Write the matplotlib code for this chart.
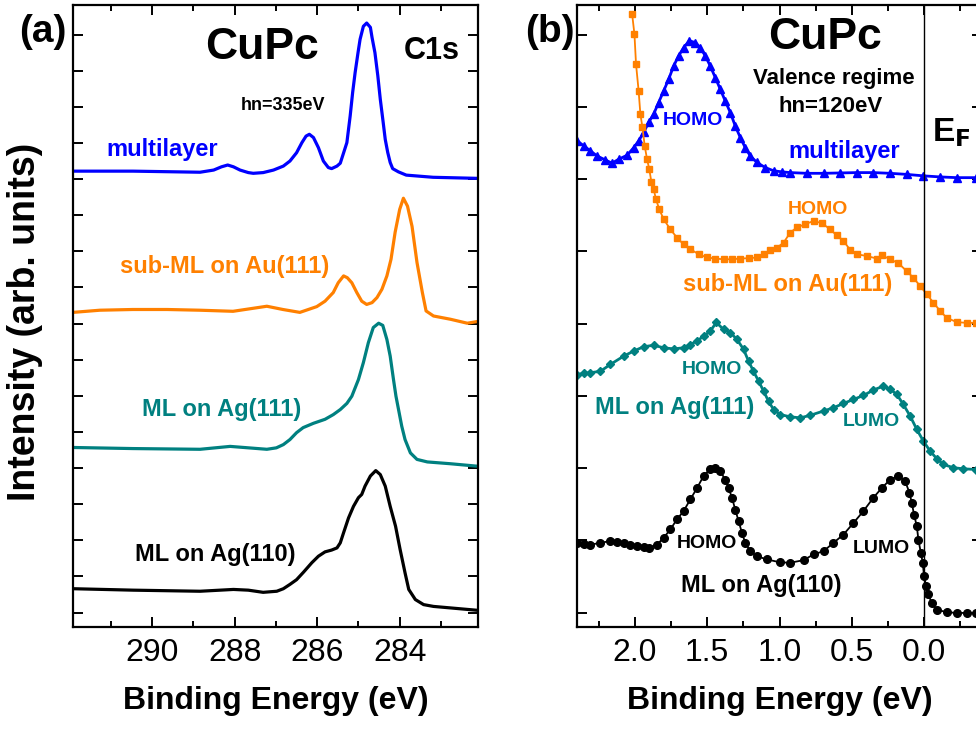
import numpy as np
import matplotlib
matplotlib.use('Agg')
import matplotlib.pyplot as plt
from matplotlib.ticker import MultipleLocator, FormatStrFormatter

plt.rcParams['font.family'] = ['Liberation Sans', 'DejaVu Sans']

# ---------------- panel (a): C1s core level ----------------
c1s_multi_E = [291.92, 290.47, 288.84, 288.51, 288.32, 288.17, 288.03, 287.87, 287.67, 287.55,
               287.31, 287.06, 286.82, 286.66, 286.50, 286.37, 286.27, 286.19, 286.09, 285.97,
               285.85, 285.73, 285.65, 285.52, 285.44, 285.28, 285.20, 285.14, 285.08, 285.01,
               284.96, 284.88, 284.80, 284.71, 284.67, 284.60, 284.53, 284.47, 284.40, 284.35,
               284.29, 284.23, 284.17, 284.03, 283.84, 283.19, 282.10]
c1s_multi_I = [12.22, 12.22, 12.19, 12.25, 12.34, 12.39, 12.34, 12.25, 12.18, 12.16,
               12.18, 12.25, 12.36, 12.50, 12.73, 13.01, 13.19, 13.24, 13.15, 12.87,
               12.50, 12.32, 12.29, 12.36, 12.44, 13.01, 13.75, 14.40, 14.95, 15.50,
               15.87, 16.23, 16.32, 16.20, 15.92, 15.50, 14.86, 14.21, 13.57, 13.10,
               12.74, 12.46, 12.29, 12.20, 12.11, 12.05, 12.02]

c1s_au_E = [291.92, 291.27, 290.47, 289.64, 288.84, 288.04, 287.22, 286.83, 286.42,
            286.01, 285.81, 285.61, 285.49, 285.36, 285.27, 285.16, 285.04, 284.92, 284.80,
            284.67, 284.55, 284.43, 284.31, 284.21, 284.11, 284.00, 283.91, 283.81, 283.70,
            283.58, 283.45, 283.36, 283.18, 282.77, 282.36, 282.10]
c1s_au_I = [8.31, 8.37, 8.39, 8.39, 8.37, 8.34, 8.48, 8.39, 8.31,
            8.47, 8.62, 8.86, 9.13, 9.32, 9.27, 9.13, 8.86, 8.62, 8.53,
            8.58, 8.72, 8.95, 9.32, 9.78, 10.53, 11.16, 11.47, 11.25, 10.69,
            9.69, 8.86, 8.35, 8.21, 8.12, 8.01, 8.06]

c1s_ag111_E = [291.92, 290.47, 288.84, 288.11, 287.22, 286.99, 286.82, 286.66, 286.50, 286.34,
               286.09, 285.81, 285.61, 285.44, 285.28, 285.16, 285.08, 285.00, 284.88, 284.76,
               284.64, 284.51, 284.41, 284.31, 284.23, 284.15, 284.09, 283.95, 283.87, 283.74,
               283.58, 283.33, 282.77, 282.10]
c1s_ag111_I = [4.57, 4.54, 4.52, 4.60, 4.52, 4.56, 4.65, 4.79, 4.98, 5.12,
               5.24, 5.35, 5.48, 5.62, 5.79, 5.99, 6.22, 6.45, 6.92, 7.47,
               7.89, 8.01, 7.95, 7.56, 7.10, 6.45, 5.99, 5.16, 4.79, 4.42,
               4.24, 4.17, 4.12, 4.05]

c1s_ag110_E = [291.91, 290.46, 288.84, 288.03, 287.67, 287.31, 286.98, 286.82, 286.66, 286.50,
               286.33, 286.13, 285.97, 285.81, 285.65, 285.52, 285.44, 285.36, 285.24, 285.12,
               285.00, 284.92, 284.84, 284.71, 284.58, 284.47, 284.35, 284.23, 284.10, 283.99,
               283.87, 283.78, 283.62, 283.42, 283.18, 282.09]
c1s_ag110_I = [0.66, 0.62, 0.59, 0.64, 0.62, 0.56, 0.59, 0.66, 0.78, 0.91,
               1.12, 1.38, 1.56, 1.68, 1.73, 1.79, 1.93, 2.21, 2.62, 2.94,
               3.18, 3.27, 3.50, 3.78, 3.93, 3.82, 3.50, 2.94, 2.39, 1.75,
               1.10, 0.64, 0.36, 0.22, 0.17, 0.06]

# ---------------- panel (b): valence regime ----------------
val_multi_E = [2.399, 2.353, 2.307, 2.261, 2.204, 2.158, 2.112, 2.054, 2.008, 1.974, 1.939,
               1.905, 1.870, 1.836, 1.801, 1.767, 1.732, 1.698, 1.663, 1.624, 1.582, 1.548,
               1.513, 1.479, 1.444, 1.410, 1.375, 1.340, 1.306, 1.271, 1.237, 1.202, 1.156,
               1.099, 1.041, 0.983, 0.926, 0.811, 0.696, 0.581, 0.465, 0.351, 0.235, 0.120,
               0.006, -0.110, -0.225, -0.358]
val_multi_I = [13.06, 12.92, 12.78, 12.64, 12.53, 12.44, 12.55, 12.66, 12.87, 13.06, 13.29,
               13.57, 13.80, 14.12, 14.44, 14.76, 15.13, 15.41, 15.64, 15.83, 15.78, 15.64,
               15.41, 15.13, 14.81, 14.49, 14.16, 13.84, 13.47, 13.15, 12.87, 12.64, 12.46,
               12.32, 12.23, 12.20, 12.18, 12.16, 12.16, 12.17, 12.18, 12.18, 12.16, 12.13,
               12.09, 12.06, 12.04, 12.04]

val_au_E = [2.019, 2.003, 1.992, 1.974, 1.962, 1.948, 1.932, 1.916, 1.900, 1.886, 1.870,
            1.854, 1.831, 1.801, 1.755, 1.709, 1.663, 1.617, 1.559, 1.501, 1.444, 1.387,
            1.329, 1.271, 1.214, 1.156, 1.110, 1.064, 1.018, 0.972, 0.926, 0.880, 0.823,
            0.765, 0.707, 0.650, 0.604, 0.558, 0.512, 0.465, 0.396, 0.327, 0.293, 0.235,
            0.178, 0.120, 0.075, 0.028, -0.018, -0.064, -0.110, -0.156, -0.225, -0.294, -0.358]
val_au_I = [16.57, 16.01, 15.18, 14.44, 13.80, 13.44, 12.92, 12.55, 12.27, 11.92, 11.72,
            11.44, 11.16, 10.89, 10.61, 10.38, 10.19, 10.06, 9.92, 9.83, 9.80, 9.78,
            9.78, 9.80, 9.81, 9.83, 9.92, 10.04, 10.10, 10.24, 10.52, 10.66, 10.75,
            10.84, 10.78, 10.61, 10.44, 10.29, 10.04, 9.92, 9.87, 9.80, 9.89, 9.78,
            9.67, 9.45, 9.27, 9.04, 8.81, 8.58, 8.35, 8.16, 8.04, 8.02, 8.02]

val_ag111_E = [2.399, 2.353, 2.307, 2.238, 2.169, 2.077, 2.008, 1.939, 1.870, 1.801, 1.732,
               1.663, 1.617, 1.570, 1.525, 1.479, 1.437, 1.387, 1.340, 1.294, 1.249, 1.214,
               1.180, 1.145, 1.110, 1.076, 1.041, 0.995, 0.926, 0.857, 0.788, 0.696, 0.627,
               0.558, 0.489, 0.420, 0.351, 0.282, 0.235, 0.189, 0.144, 0.097, 0.051, 0.006,
               -0.041, -0.087, -0.133, -0.202, -0.271, -0.358]
val_ag111_I = [6.59, 6.62, 6.64, 6.68, 6.87, 7.10, 7.24, 7.36, 7.40, 7.33, 7.30,
               7.33, 7.42, 7.52, 7.65, 7.79, 8.03, 7.84, 7.75, 7.56, 7.29, 6.96,
               6.68, 6.41, 6.13, 5.85, 5.62, 5.48, 5.42, 5.39, 5.46, 5.58, 5.67,
               5.79, 5.90, 6.01, 6.16, 6.27, 6.18, 6.04, 5.76, 5.44, 5.07, 4.75,
               4.47, 4.26, 4.10, 4.01, 3.98, 3.96]

val_ag110_E = [2.399, 2.353, 2.307, 2.238, 2.169, 2.123, 2.077, 2.031, 1.985, 1.939, 1.905,
               1.847, 1.801, 1.755, 1.709, 1.663, 1.617, 1.570, 1.525, 1.479, 1.444, 1.410,
               1.375, 1.352, 1.329, 1.306, 1.283, 1.260, 1.237, 1.202, 1.156, 1.087, 0.995,
               0.926, 0.834, 0.765, 0.696, 0.627, 0.558, 0.489, 0.420, 0.351, 0.293, 0.235,
               0.178, 0.132, 0.102, 0.086, 0.070, 0.051, 0.040, 0.023, 0.010, 0.001, -0.013,
               -0.029, -0.052, -0.087, -0.156, -0.225, -0.294, -0.358]
val_ag110_I = [1.93, 1.91, 1.88, 1.93, 1.98, 1.96, 1.93, 1.88, 1.84, 1.82, 1.79,
               1.88, 2.07, 2.30, 2.58, 2.81, 3.13, 3.45, 3.78, 3.98, 4.01, 3.91,
               3.68, 3.45, 3.18, 2.85, 2.53, 2.21, 1.93, 1.70, 1.56, 1.47, 1.39,
               1.38, 1.45, 1.61, 1.70, 1.93, 2.16, 2.48, 2.81, 3.18, 3.45, 3.68,
               3.78, 3.64, 3.32, 3.04, 2.71, 2.39, 2.02, 1.65, 1.38, 1.01, 0.73,
               0.50, 0.27, 0.08, 0.01, -0.01, -0.01, -0.01]

BLUE = '#0000ff'
ORANGE = '#ff8000'
TEAL = '#008080'
BLACK = '#000000'

fig = plt.figure(figsize=(9.76, 7.33), dpi=100)
axa = fig.add_axes([0.0748, 0.1446, 0.415, 0.8486])
axb = fig.add_axes([0.5912, 0.1446, 0.415, 0.8486])


def style_axis(ax):
    for s in ax.spines.values():
        s.set_linewidth(1.6)
    ax.tick_params(which='both', direction='in', top=True, right=True,
                   width=1.4, labelsize=23, pad=8)
    ax.tick_params(which='major', length=7)
    ax.tick_params(which='minor', length=4)
    ax.tick_params(axis='y', labelleft=False)
    ax.set_ylim(-0.4, 16.82)
    ax.set_xlabel('Binding Energy (eV)', fontsize=23, fontweight='bold')
    ax.xaxis.set_label_coords(0.5, -0.095)


# ---------------- (a) ----------------
lw = 2.3
axa.plot(c1s_multi_E, c1s_multi_I, color=BLUE, lw=lw)
axa.plot(c1s_au_E, c1s_au_I, color=ORANGE, lw=lw)
axa.plot(c1s_ag111_E, c1s_ag111_I, color=TEAL, lw=lw)
axa.plot(c1s_ag110_E, c1s_ag110_I, color=BLACK, lw=lw)
axa.set_xlim(291.92, 282.10)
axa.xaxis.set_major_locator(MultipleLocator(2))
axa.xaxis.set_minor_locator(MultipleLocator(1))
axa.yaxis.set_major_locator(MultipleLocator(1))
style_axis(axa)
axa.set_ylabel('Intensity (arb. units)', fontsize=27, fontweight='bold')
axa.yaxis.set_label_coords(-0.074, 0.49)

ta = axa.transAxes
axa.text(0.467, 0.931, 'CuPc', transform=ta, fontsize=32, fontweight='bold', ha='center', va='center')
axa.text(0.886, 0.926, 'C1s', transform=ta, fontsize=22, fontweight='bold', ha='center', va='center')
axa.text(0.519, 0.838, 'hn=335eV', transform=ta, fontsize=13, fontweight='bold', ha='center', va='center')
axa.text(0.220, 0.767, 'multilayer', transform=ta, fontsize=17, fontweight='bold', color=BLUE, ha='center', va='center')
axa.text(0.375, 0.580, 'sub-ML on Au(111)', transform=ta, fontsize=17, fontweight='bold', color=ORANGE, ha='center', va='center')
axa.text(0.368, 0.350, 'ML on Ag(111)', transform=ta, fontsize=17, fontweight='bold', color=TEAL, ha='center', va='center')
axa.text(0.351, 0.117, 'ML on Ag(110)', transform=ta, fontsize=17, fontweight='bold', color=BLACK, ha='center', va='center')

# ---------------- (b) ----------------
axb.plot(val_multi_E, val_multi_I, color=BLUE, lw=2, marker='^', ms=5.5)
axb.plot(val_au_E, val_au_I, color=ORANGE, lw=1.3, marker='s', ms=5)
axb.plot(val_ag111_E, val_ag111_I, color=TEAL, lw=2, marker='D', ms=4.5)
axb.plot(val_ag110_E, val_ag110_I, color=BLACK, lw=1.3, marker='o', ms=5.5)
axb.axvline(0, color='k', lw=1)
axb.set_xlim(2.40, -0.40)
axb.xaxis.set_major_locator(MultipleLocator(0.5))
axb.xaxis.set_minor_locator(MultipleLocator(0.25))
axb.xaxis.set_major_formatter(FormatStrFormatter('%.1f'))
axb.yaxis.set_major_locator(MultipleLocator(2))
style_axis(axb)

tb = axb.transAxes
axb.text(0.612, 0.948, 'CuPc', transform=tb, fontsize=32, fontweight='bold', ha='center', va='center')
axb.text(0.635, 0.882, 'Valence regime', transform=tb, fontsize=16, fontweight='bold', ha='center', va='center')
axb.text(0.627, 0.837, 'hn=120eV', transform=tb, fontsize=16, fontweight='bold', ha='center', va='center')
axb.text(0.876, 0.794, r'E$_\mathbf{F}$', transform=tb, fontsize=24, fontweight='bold', ha='left', va='center')
axb.text(0.286, 0.815, 'HOMO', transform=tb, fontsize=14, fontweight='bold', color=BLUE, ha='center', va='center')
axb.text(0.659, 0.765, 'multilayer', transform=tb, fontsize=17, fontweight='bold', color=BLUE, ha='center', va='center')
axb.text(0.595, 0.671, 'HOMO', transform=tb, fontsize=14, fontweight='bold', color=ORANGE, ha='center', va='center')
axb.text(0.519, 0.551, 'sub-ML on Au(111)', transform=tb, fontsize=17, fontweight='bold', color=ORANGE, ha='center', va='center')
axb.text(0.333, 0.414, 'HOMO', transform=tb, fontsize=14, fontweight='bold', color=TEAL, ha='center', va='center')
axb.text(0.240, 0.353, 'ML on Ag(111)', transform=tb, fontsize=17, fontweight='bold', color=TEAL, ha='center', va='center')
axb.text(0.726, 0.330, 'LUMO', transform=tb, fontsize=14, fontweight='bold', color=TEAL, ha='center', va='center')
axb.text(0.321, 0.134, 'HOMO', transform=tb, fontsize=14, fontweight='bold', color=BLACK, ha='center', va='center')
axb.text(0.751, 0.126, 'LUMO', transform=tb, fontsize=14, fontweight='bold', color=BLACK, ha='center', va='center')
axb.text(0.454, 0.066, 'ML on Ag(110)', transform=tb, fontsize=17, fontweight='bold', color=BLACK, ha='center', va='center')

# panel letters
fig.text(0.044, 0.956, '(a)', fontsize=28, fontweight='bold', ha='center', va='center')
fig.text(0.563, 0.956, '(b)', fontsize=28, fontweight='bold', ha='center', va='center')

fig.savefig('out.png', dpi=100)
print("saved out.png")
